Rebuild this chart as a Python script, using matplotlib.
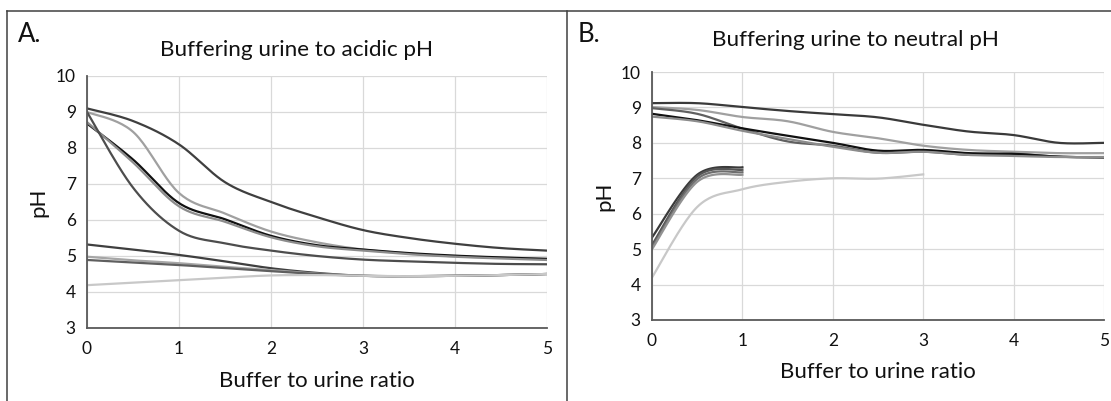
"""Buffering urine to acidic / neutral pH - two panel line chart."""
import numpy as np
import matplotlib
matplotlib.use("Agg")
import matplotlib.pyplot as plt
from matplotlib.lines import Line2D

plt.rcParams.update({"font.family": ["Lato", "DejaVu Sans"]})

W, H = 1111, 401

# ---- Panel A: buffering to acidic pH ----
xa = [0, 0.5, 1, 1.5, 2, 2.5, 3, 3.5, 4, 4.5, 5]
a1 = [9.10, 8.75, 8.10, 7.05, 6.50, 6.08, 5.72, 5.50, 5.34, 5.22, 5.15]
a2 = [9.00, 8.45, 6.75, 6.18, 5.68, 5.38, 5.18, 5.07, 4.99, 4.95, 4.92]
a3 = [8.68, 7.68, 6.47, 6.02, 5.56, 5.30, 5.18, 5.08, 5.01, 4.96, 4.92]
a4 = [8.72, 7.60, 6.38, 5.95, 5.52, 5.27, 5.15, 5.05, 4.98, 4.93, 4.89]
a5 = [9.00, 6.90, 5.70, 5.35, 5.15, 5.00, 4.90, 4.85, 4.81, 4.78, 4.77]
a6 = [5.32, 5.18, 5.03, 4.85, 4.66, 4.53, 4.45, 4.44, 4.45, 4.47, 4.50]
a7 = [4.98, 4.88, 4.80, 4.70, 4.61, 4.51, 4.45, 4.44, 4.45, 4.47, 4.50]
a8 = [4.89, 4.82, 4.75, 4.66, 4.58, 4.50, 4.45, 4.44, 4.45, 4.47, 4.50]
a9 = [4.19, 4.26, 4.33, 4.40, 4.46, 4.47, 4.45, 4.44, 4.45, 4.47, 4.50]
series_a = [a1, a2, a3, a4, a5, a6, a7, a8, a9]
colors_a = ["#3f3f3f", "#a0a0a0", "#111111", "#8c8c8c", "#4d4d4d",
            "#3f3f3f", "#a6a6a6", "#5f5f5f", "#c8c8c8"]

# ---- Panel B: buffering to neutral pH ----
xb = [0, 0.5, 1, 1.5, 2, 2.5, 3, 3.5, 4, 4.5, 5]
b1 = [9.12, 9.12, 9.01, 8.90, 8.81, 8.72, 8.51, 8.32, 8.22, 8.00, 8.00]
b2 = [9.01, 8.93, 8.73, 8.61, 8.31, 8.13, 7.92, 7.80, 7.75, 7.71, 7.71]
b3 = [8.98, 8.82, 8.40, 8.04, 7.92, 7.72, 7.75, 7.66, 7.69, 7.61, 7.59]
b4 = [8.82, 8.64, 8.41, 8.20, 8.00, 7.78, 7.80, 7.71, 7.69, 7.61, 7.59]
b5 = [8.74, 8.61, 8.34, 8.11, 7.89, 7.72, 7.75, 7.66, 7.63, 7.60, 7.60]
series_b = [b1, b2, b3, b4, b5]
colors_b = ["#3a3a3a", "#a0a0a0", "#606060", "#111111", "#8c8c8c"]

xs = [0, 0.5, 1]
s1 = [5.33, 7.10, 7.31]
s2 = [5.12, 7.05, 7.24]
s3 = [5.05, 6.98, 7.17]
s4 = [5.00, 6.90, 7.10]
series_s = [s1, s2, s3, s4]
colors_s = ["#3a3a3a", "#555555", "#6e6e6e", "#929292"]

xl = [0, 0.5, 1, 1.5, 2, 2.5, 3]
light = [4.20, 6.19, 6.69, 6.90, 7.00, 6.99, 7.11]

yticks = [3, 4, 5, 6, 7, 8, 9, 10]
xticks = [0, 1, 2, 3, 4, 5]


def smooth(x, y, n=24):
    """Excel-style smoothed line (Catmull-Rom as cubic Bezier)."""
    p = np.column_stack([x, y]).astype(float)
    ext = np.vstack([p[0], p, p[-1]])
    t = np.linspace(0, 1, n)[:, None]
    out = [p[:1]]
    for i in range(len(p) - 1):
        p0, p1, p2, p3 = ext[i], ext[i + 1], ext[i + 2], ext[i + 3]
        c1 = p1 + (p2 - p0) / 6
        c2 = p2 - (p3 - p1) / 6
        seg = ((1 - t) ** 3 * p1 + 3 * (1 - t) ** 2 * t * c1
               + 3 * (1 - t) * t ** 2 * c2 + t ** 3 * p2)
        out.append(seg[1:])
    pts = np.vstack(out)
    return pts[:, 0], pts[:, 1]


def px_axes(fig, x0, x1, y0, y1):
    return fig.add_axes([x0 / W, 1 - y1 / H, (x1 - x0) / W, (y1 - y0) / H])


def style(ax):
    ax.set_xlim(0, 5); ax.set_ylim(3, 10)
    ax.set_xticks(xticks); ax.set_yticks(yticks)
    ax.grid(True, color="#d9d9d9", lw=0.9, zorder=0)
    for s in ("top", "right"):
        ax.spines[s].set_visible(False)
    for s in ("left", "bottom"):
        ax.spines[s].set_color("#595959"); ax.spines[s].set_linewidth(1.3)
        ax.spines[s].set_zorder(5)
    ax.tick_params(length=0, labelsize=12.5, colors="#111111")
    ax.tick_params(axis="y", pad=8)
    ax.tick_params(axis="x", pad=9)


def ftext(fig, x, y, s, **kw):
    fig.text(x / W, 1 - y / H, s, color="#111111", **kw)


fig = plt.figure(figsize=(W / 100, H / 100), dpi=100)

axA = px_axes(fig, 87, 547, 76, 328)
style(axA)
for ys, c in zip(series_a, colors_a):
    axA.plot(*smooth(xa, ys), color=c, lw=1.6, zorder=3)

axB = px_axes(fig, 652, 1104, 72, 320)
style(axB)
for ys, c in zip(series_b, colors_b):
    axB.plot(*smooth(xb, ys), color=c, lw=1.6, zorder=3)
for ys, c in zip(series_s, colors_s):
    axB.plot(*smooth(xs, ys), color=c, lw=1.6, zorder=3)
axB.plot(*smooth(xl, light), color="#c8c8c8", lw=1.6, zorder=3)

# titles, labels, panel letters
ftext(fig, 297, 50, "Buffering urine to acidic pH", fontsize=16.2, ha="center", va="center")
ftext(fig, 855, 40, "Buffering urine to neutral pH", fontsize=16.2, ha="center", va="center")
ftext(fig, 317, 381, "Buffer to urine ratio", fontsize=16, ha="center", va="center")
ftext(fig, 878, 372, "Buffer to urine ratio", fontsize=16, ha="center", va="center")
ftext(fig, 38, 202, "pH", fontsize=16, ha="center", va="center", rotation=90)
ftext(fig, 604, 196, "pH", fontsize=16, ha="center", va="center", rotation=90)
ftext(fig, 18, 34, "A.", fontsize=18.5, ha="left", va="center")
ftext(fig, 578, 34, "B.", fontsize=18.5, ha="left", va="center")

# panel borders
bc = "#404040"
fig.add_artist(Line2D([7 / W, 7 / W], [0, 1 - 10.5 / H], color=bc, lw=1.1))
fig.add_artist(Line2D([7 / W, 1], [1 - 10.5 / H, 1 - 10.5 / H], color=bc, lw=1.1))
fig.add_artist(Line2D([566.5 / W, 566.5 / W], [0, 1 - 10.5 / H], color=bc, lw=1.1))

fig.savefig("out.png", dpi=100, facecolor="white")
